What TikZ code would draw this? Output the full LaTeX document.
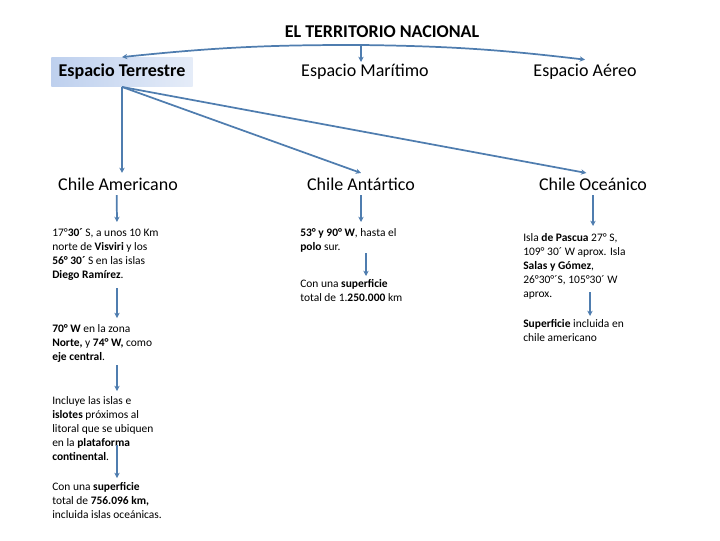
\documentclass[tikz,border=0pt]{standalone}
\usepackage{fontspec}
\setmainfont{Carlito}
\usetikzlibrary{arrows.meta,positioning}
\definecolor{lineblue}{RGB}{79,125,175}
\definecolor{boxblue}{RGB}{190,208,238}

\begin{document}
\begin{tikzpicture}[x=0.75pt,y=-0.75pt,
    head/.style={font=\fontsize{13.5}{15}\selectfont},
    txt/.style={anchor=north west,align=left,inner sep=0pt,font=\fontsize{8.6}{10.6}\selectfont},
    arr/.style={draw=lineblue,line width=1.3pt,-{Stealth[length=4pt,width=4pt]}}]
          \useasboundingbox (0,0) rectangle (720,540);
          \node[font=\bfseries\fontsize{13.5}{15}\selectfont] (title) at (382,32) {EL TERRITORIO NACIONAL};
          \coordinate (top) at (361,45);
          \node[head,left color=boxblue,right color=boxblue!40,minimum width=106pt,minimum height=22pt]
                    (terr) at (122,72) {\textbf{Espacio Terrestre}};
          \node[head] (mar)  at (365,72) {Espacio Marítimo};
          \node[head] (aer)  at (585,72) {Espacio Aéreo};
          \node[head] (amer) at (118,184) {Chile Americano};
          \node[head] (ant)  at (361,184) {Chile Antártico};
          \node[head] (oce)  at (593,184) {Chile Oceánico};

          % columna americano
          \node[txt] (am1) at (52,228) {17°\textbf{30´} S, a unos 10 Km\\norte de \textbf{Visviri} y los\\\textbf{56° 30´} S en las islas\\\textbf{Diego Ramírez}.};
          \node[txt] (am2) at (52,324) {\textbf{70° W} en la zona\\\textbf{Norte,} y \textbf{74° W,}  como\\\textbf{eje central}.};
          \node[txt] (am3) at (52,396) {Incluye las islas  e\\\textbf{islotes} próximos al\\litoral que se ubiquen\\en la \textbf{plataforma}\\\textbf{continental}.};
          \node[txt] (am4) at (52,482) {Con una \textbf{superficie}\\total de \textbf{756.096 km,}\\incluida islas oceánicas.};
          % columna antartico
          \node[txt] (an1) at (300,228) {\textbf{53° y 90° W}, hasta el\\\textbf{polo} sur.};
          \node[txt] (an2) at (300,279) {Con una \textbf{superficie}\\total de 1.\textbf{250.000} km};
          % columna oceanico
          \node[txt] (oc1) at (523,233) {Isla \textbf{de Pascua}  27° S,\\109° 30´ W aprox. Isla\\\textbf{Salas y Gómez},\\26°30°´S, 105°30´ W\\aprox.};
          \node[txt] (oc2) at (523,319) {\textbf{Superficie} incluida en\\chile americano};

          \draw[arr] (top) -- ++(0,17);
          \draw[arr] (top) to[bend right=3] (terr.north);
          \draw[arr] (top) to[bend left=3] (aer.north);
          \draw[arr] (terr.south) -- (terr.south |- amer.north);
          \draw[arr] (terr.south) -- (ant.north);
          \draw[arr] (terr.south) -- ([xshift=-5]oce.north);

          \draw[arr] ([xshift=-1]amer.south) -- (117,222);
          \draw[arr] (ant.south) -- (361,222);
          \draw[arr] (oce.south) -- (593,226);
          \draw[arr] (117,288) -- (117,318);
          \draw[arr] (117,365) -- (117,391);
          \draw[arr] (117,445) -- (117,478);
          \draw[arr] (366,253) -- (366,276);
          \draw[arr] (590,292) -- (590,316);
\end{tikzpicture}
\end{document}
